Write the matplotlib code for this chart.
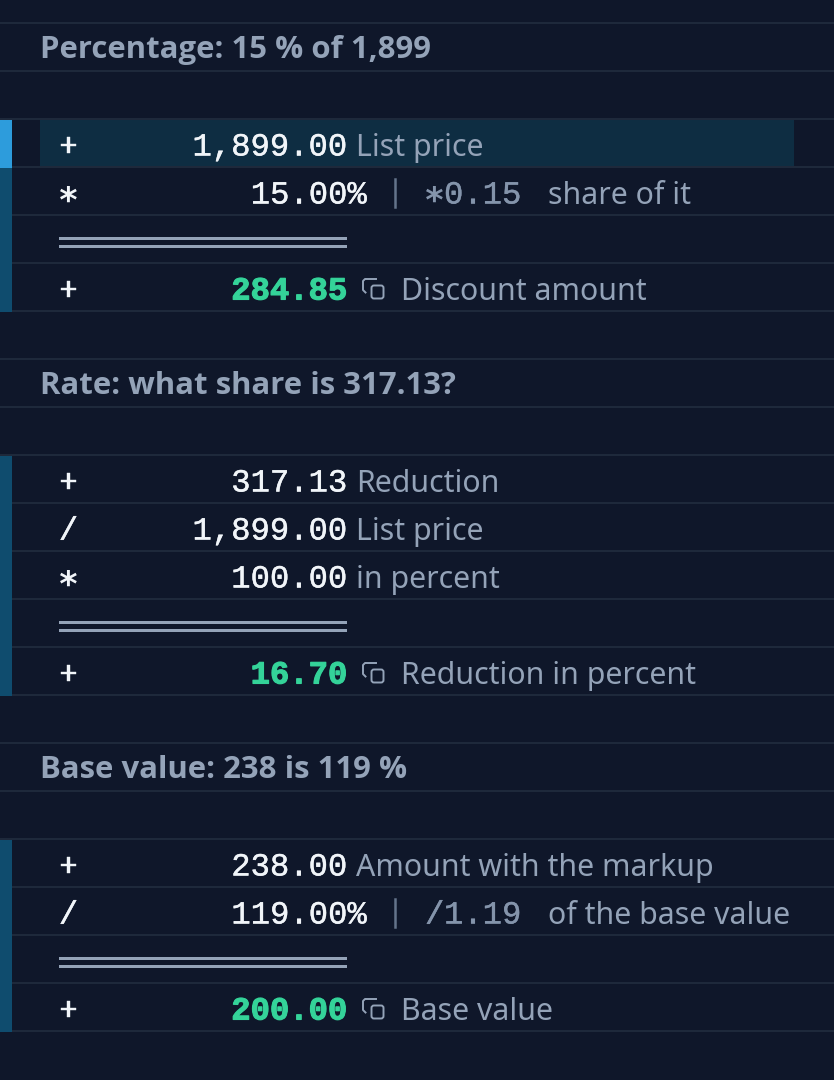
import matplotlib
matplotlib.use("Agg")
import matplotlib.pyplot as plt
import matplotlib.patheffects as pe
from matplotlib.patches import Rectangle, FancyBboxPatch

W, H = 834, 1080
BG = "#0f172a"
RULE = "#1e293b"
BAR = "#0f4c6e"
BAR_ACTIVE = "#2d9cdc"
ACTIVE_ROW = "#0e2d42"
TXT = "#f1f5f9"
MUTED = "#94a3b8"
FACTOR = "#8494ab"
GREEN = "#34d399"
MONO = ["Liberation Mono", "DejaVu Sans Mono"]
SANS = "Noto Sans"
HEAD = "Open Sans"

section_titles = ["Percentage: 15 % of 1,899", "Rate: what share is 317.13?", "Base value: 238 is 119 %"]
section_ops = [["+", "*"], ["+", "/", "*"], ["+", "/"]]
section_values = [["1,899.00", "15.00%"], ["317.13", "1,899.00", "100.00"], ["238.00", "119.00%"]]
section_labels = [["List price", "share of it"], ["Reduction", "List price", "in percent"],
                  ["Amount with the markup", "of the base value"]]
section_factors = [[None, "*0.15"], [None, None, None], [None, "/1.19"]]
result_values = ["284.85", "16.70", "200.00"]
result_labels = ["Discount amount", "Reduction in percent", "Base value"]

ROW = 48
TOP = 23
NUM_RIGHT = 347

fig = plt.figure(figsize=(W / 100, H / 100), dpi=100, facecolor=BG)
ax = fig.add_axes([0, 0, 1, 1])
ax.set_xlim(0, W)
ax.set_ylim(H, 0)
ax.axis("off")

for i in range(22):
    y = TOP + i * ROW
    ax.plot([0, W], [y, y], color=RULE, lw=1.5, solid_capstyle="butt", zorder=1)


def mono(x, y, s, color=TXT, ha="left", weight="normal", stroke=0.3):
    t = ax.text(x, y - 0.5, s, family=MONO, fontsize=23.2, color=color, ha=ha, va="baseline",
                weight=weight, zorder=4)
    t.set_path_effects([pe.withStroke(linewidth=stroke, foreground=color)])


def label(x, y, s):
    ax.text(x, y, s, family=SANS, fontsize=21.8, color=MUTED, ha="left", va="baseline", zorder=4)


def star(x, y, color):
    ax.text(x, y + 1, "\u2217", family="DejaVu Sans Mono", fontsize=25, weight="bold", color=color,
            ha="center", va="baseline", zorder=4)


def op_mark(y, op):
    if op == "*":
        star(68.5, y, TXT)
    else:
        mono(68.5, y, op, ha="center")


def copy_icon(top):
    x0 = 362
    ax.add_patch(FancyBboxPatch((x0 + 9.5, top + 7.5), 12, 13, boxstyle="round,pad=0,rounding_size=2.5",
                                fc="none", ec=MUTED, lw=1.4, zorder=4))
    ax.plot([x0 + 14, x0 + 3, x0 + 1, x0 + 1, x0 + 3.5],
            [top + 1, top + 1, top + 3, top + 12, top + 14.5],
            color=MUTED, lw=1.4, zorder=4)


row = 0
for s, title in enumerate(section_titles):
    ax.text(40.5, TOP + row * ROW + 35, title, family=HEAD, fontsize=22.4, weight="bold",
            color=MUTED, ha="left", va="baseline", zorder=4)
    row += 2
    start = row
    for j, (op, val, lab, fac) in enumerate(zip(section_ops[s], section_values[s],
                                               section_labels[s], section_factors[s])):
        top = TOP + row * ROW
        base = top + 37
        if s == 0 and j == 0:
            ax.add_patch(Rectangle((40, top + 1), 754, ROW - 2, fc=ACTIVE_ROW, ec="none", zorder=2))
        op_mark(base, op)
        if val.endswith("%"):
            mono(367, base, val, ha="right")
            ax.plot([395, 395], [top + 12, top + 40], color="#64748b", lw=1.8, zorder=4)
            if fac.startswith("*"):
                star(434, base, FACTOR)
            else:
                mono(425, base, fac[0], color=FACTOR)
            mono(444, base, fac[1:], color=FACTOR)
            label(548, base, lab)
        else:
            mono(NUM_RIGHT + 0.5, base, val, ha="right")
            label(356, base, lab)
        row += 1
    top = TOP + row * ROW
    for dy in (22, 30):
        ax.add_patch(Rectangle((59, top + dy), NUM_RIGHT - 59, 3, fc=MUTED, ec="none", zorder=3))
    row += 1
    top = TOP + row * ROW
    base = top + 37
    mono(68.5, base, "+", ha="center")
    mono(NUM_RIGHT + 0.5, base, result_values[s], color=GREEN, ha="right", weight="bold", stroke=0.8)
    copy_icon(top + 15)
    label(401, base, result_labels[s])
    row += 1
    ax.add_patch(Rectangle((0, TOP + start * ROW + 1), 12, (row - start) * ROW, fc=BAR, ec="none", zorder=3))
    if s == 0:
        ax.add_patch(Rectangle((0, TOP + start * ROW + 1), 12, ROW, fc=BAR_ACTIVE, ec="none", zorder=3.5))
    row += 1

fig.savefig("out.png", dpi=100, facecolor=BG)
